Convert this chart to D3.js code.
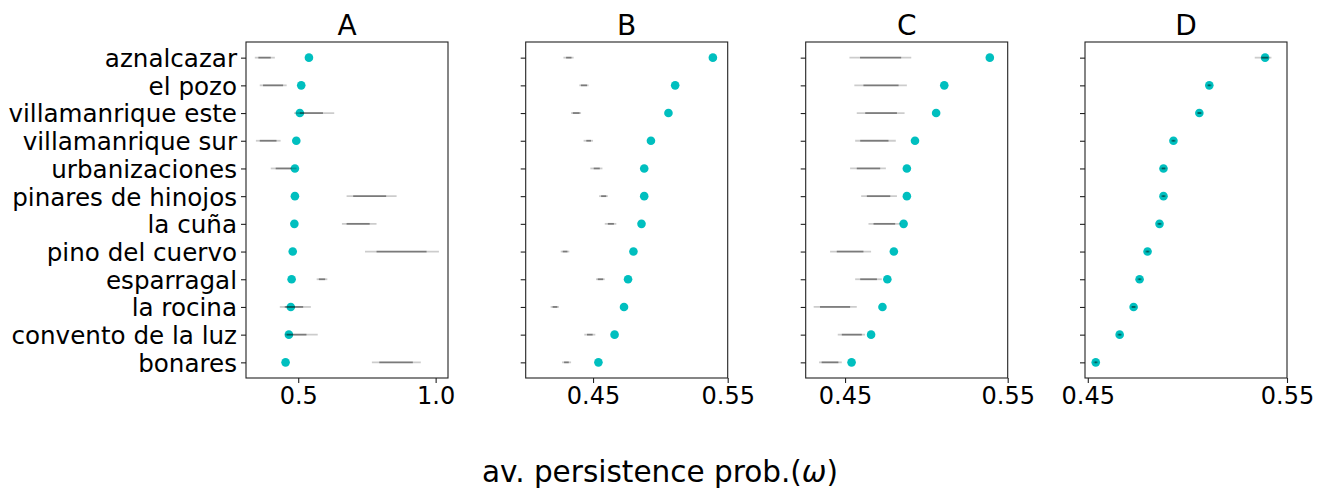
<!DOCTYPE html>
<html>
<head>
<meta charset="utf-8">
<script src="https://cdn.jsdelivr.net/npm/d3@7"></script>
<style>
  body { margin: 0; background: #fff; }
  svg text { font-family: "DejaVu Sans", sans-serif; fill: #000; }
</style>
</head>
<body>
<div id="chart"></div>
<script>
// site names, top to bottom
let sites = ["aznalcazar", "el pozo", "villamanrique este", "villamanrique sur",
  "urbanizaciones", "pinares de hinojos", "la cuña", "pino del cuervo",
  "esparragal", "la rocina", "convento de la luz", "bonares"];

let panelNames = ["A", "B", "C", "D"];

// cyan point (same in every panel)
let omega = [0.539, 0.511, 0.506, 0.493, 0.488, 0.488, 0.486, 0.480, 0.476, 0.473, 0.466, 0.454];

// black sample spread: outer range and denser inner range, per panel
let lowA = [0.342, 0.360, 0.485, 0.346, 0.400, 0.676, 0.659, 0.743, 0.567, 0.433, 0.452, 0.768];
let highA = [0.415, 0.458, 0.631, 0.436, 0.494, 0.858, 0.785, 1.012, 0.606, 0.546, 0.571, 0.946];
let innerLowA = [0.355, 0.372, 0.506, 0.360, 0.418, 0.700, 0.676, 0.785, 0.575, 0.451, 0.458, 0.795];
let innerHighA = [0.400, 0.445, 0.590, 0.421, 0.475, 0.820, 0.760, 0.967, 0.598, 0.518, 0.530, 0.917];

let lowB = [0.428, 0.4398, 0.4337, 0.443, 0.448, 0.4545, 0.4587, 0.426, 0.4522, 0.4185, 0.4435, 0.427];
let highB = [0.4356, 0.4467, 0.4411, 0.450, 0.457, 0.461, 0.4673, 0.4324, 0.4587, 0.4247, 0.4517, 0.4337];
let innerLowB = [0.430, 0.441, 0.435, 0.445, 0.4505, 0.456, 0.461, 0.4275, 0.4535, 0.420, 0.4455, 0.4285];
let innerHighB = [0.434, 0.4455, 0.440, 0.4485, 0.455, 0.4598, 0.4655, 0.431, 0.4575, 0.4235, 0.4497, 0.432];

let lowC = [0.4527, 0.4557, 0.4572, 0.4562, 0.4531, 0.4599, 0.4644, 0.4408, 0.4562, 0.4307, 0.4455, 0.434];
let highC = [0.4907, 0.4880, 0.4866, 0.4812, 0.4751, 0.4819, 0.4841, 0.4660, 0.4726, 0.4572, 0.4623, 0.448];
let innerLowC = [0.4592, 0.4613, 0.4624, 0.4593, 0.4572, 0.4634, 0.4675, 0.4449, 0.4593, 0.4346, 0.4480, 0.4356];
let innerHighC = [0.4845, 0.4829, 0.4819, 0.4767, 0.4716, 0.4778, 0.4808, 0.4613, 0.4696, 0.4531, 0.4603, 0.4459];

let lowD = [0.5338, 0.5098, 0.5048, 0.4918, 0.4865, 0.4868, 0.4848, 0.4788, 0.4749, 0.4716, 0.4648, 0.4528];
let highD = [0.5422, 0.5122, 0.5075, 0.4942, 0.4895, 0.4892, 0.4872, 0.4812, 0.4771, 0.4744, 0.4672, 0.4552];
let innerLowD = [0.5372, 0.5104, 0.5052, 0.4924, 0.4872, 0.4874, 0.4854, 0.4794, 0.4755, 0.4722, 0.4654, 0.4535];
let innerHighD = [0.5405, 0.5116, 0.5068, 0.4936, 0.4888, 0.4886, 0.4866, 0.4806, 0.4765, 0.4738, 0.4666, 0.4545];

// axis limits and ticks
let xLimits = [[0.31, 1.045], [0.40, 0.55], [0.4258, 0.55], [0.4486, 0.55]];
let xTicks = [[0.5, 1.0], [0.45, 0.55], [0.45, 0.55], [0.45, 0.55]];
let xTickFormat = [".1f", ".2f", ".2f", ".2f"];

let spreads = [
  [lowA, highA, innerLowA, innerHighA],
  [lowB, highB, innerLowB, innerHighB],
  [lowC, highC, innerLowC, innerHighC],
  [lowD, highD, innerLowD, innerHighD],
];

let svgWidth = 1329;
let svgHeight = 494;
let panelLeft = [246, 525.7, 805.7, 1085];
let panelWidth = 202;
let panelTop = 42;
let panelBottom = 378;

let svg = d3.select("#chart").append("svg")
  .attr("width", svgWidth)
  .attr("height", svgHeight);

let yScale = d3.scalePoint()
  .domain(sites)
  .range([panelTop, panelBottom])
  .padding(0.565);

panelNames.forEach(function(name, p) {
  let x = d3.scaleLinear()
    .domain(xLimits[p])
    .range([panelLeft[p], panelLeft[p] + panelWidth]);

  let g = svg.append("g");

  // cyan estimates
  g.selectAll("circle")
    .data(sites)
    .enter()
    .append("circle")
    .attr("cx", (d, i) => x(omega[i]))
    .attr("cy", d => yScale(d))
    .attr("r", 4.3)
    .attr("fill", "#00bfbf");

  // sample spread (drawn on top)
  let s = spreads[p];
  g.selectAll(".outer")
    .data(sites)
    .enter()
    .append("line")
    .attr("class", "outer")
    .attr("x1", (d, i) => x(s[0][i]))
    .attr("x2", (d, i) => x(s[1][i]))
    .attr("y1", d => yScale(d))
    .attr("y2", d => yScale(d))
    .attr("stroke", "#000")
    .attr("stroke-opacity", 0.2)
    .attr("stroke-width", 1.8);
  g.selectAll(".inner")
    .data(sites)
    .enter()
    .append("line")
    .attr("class", "inner")
    .attr("x1", (d, i) => x(s[2][i]))
    .attr("x2", (d, i) => x(s[3][i]))
    .attr("y1", d => yScale(d))
    .attr("y2", d => yScale(d))
    .attr("stroke", "#000")
    .attr("stroke-opacity", 0.4)
    .attr("stroke-width", 1.8);

  // frame
  g.append("rect")
    .attr("x", panelLeft[p])
    .attr("y", panelTop)
    .attr("width", panelWidth)
    .attr("height", panelBottom - panelTop)
    .attr("fill", "none")
    .attr("stroke", "#222")
    .attr("stroke-width", 1.1);

  // x axis
  let xAxis = g.append("g")
    .attr("transform", `translate(0, ${panelBottom})`)
    .call(d3.axisBottom(x).tickValues(xTicks[p]).tickFormat(d3.format(xTickFormat[p]))
      .tickSize(5).tickPadding(4));
  xAxis.select(".domain").remove();
  xAxis.selectAll("line").attr("stroke", "#222").attr("stroke-width", 1.1);
  xAxis.selectAll("text").attr("font-size", "24px").attr("font-family", "DejaVu Sans");

  // y axis
  let yAxis = g.append("g")
    .attr("transform", `translate(${panelLeft[p]}, 0)`)
    .call(d3.axisLeft(yScale).tickSize(5).tickPadding(4));
  yAxis.select(".domain").remove();
  yAxis.selectAll("line").attr("stroke", "#222").attr("stroke-width", 1.1);
  if (p === 0) {
    yAxis.selectAll("text").attr("font-size", "24.6px").attr("font-family", "DejaVu Sans")
      .attr("dy", "0.36em");
  } else {
    yAxis.selectAll("text").remove();
  }

  // title
  g.append("text")
    .attr("x", panelLeft[p] + panelWidth / 2)
    .attr("y", 35)
    .attr("text-anchor", "middle")
    .attr("font-size", "28px")
    .text(name);
});

// shared x label
let xLabel = svg.append("text")
  .attr("x", 660)
  .attr("y", 482)
  .attr("text-anchor", "middle")
  .attr("font-size", "29.5px");
xLabel.append("tspan").text("av. persistence prob.(");
xLabel.append("tspan").attr("font-style", "italic").text("ω");
xLabel.append("tspan").text(")");
</script>
</body>
</html>
